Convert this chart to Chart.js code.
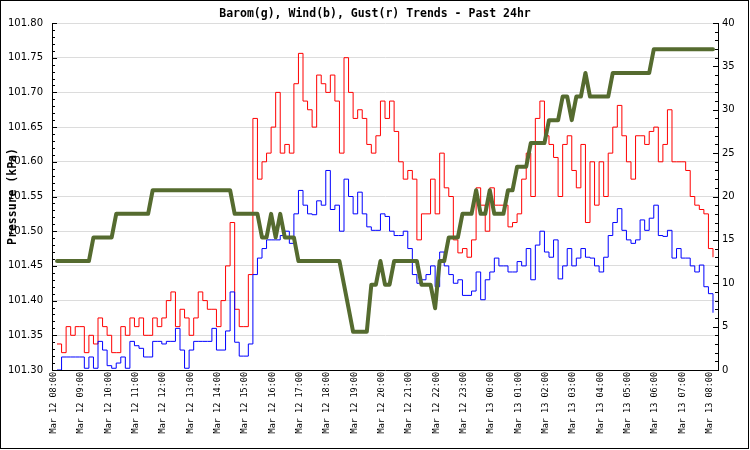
<!DOCTYPE html>
<html>
<head>
<meta charset="utf-8">
<script src="https://cdn.jsdelivr.net/npm/chart.js@4.4.0/dist/chart.umd.min.js"></script>
<style>
  body { margin: 0; background: #fff; }
  #weatherChart { display: block; }
</style>
</head>
<body>
<canvas id="weatherChart" width="750" height="450"></canvas>
<script>
// hour tick labels along the bottom axis
const hourLabels = [
  "Mar 12 08:00", "Mar 12 09:00", "Mar 12 10:00", "Mar 12 11:00", "Mar 12 12:00",
  "Mar 12 13:00", "Mar 12 14:00", "Mar 12 15:00", "Mar 12 16:00", "Mar 12 17:00",
  "Mar 12 18:00", "Mar 12 19:00", "Mar 12 20:00", "Mar 12 21:00", "Mar 12 22:00",
  "Mar 12 23:00", "Mar 13 00:00", "Mar 13 01:00", "Mar 13 02:00", "Mar 13 03:00",
  "Mar 13 04:00", "Mar 13 05:00", "Mar 13 06:00", "Mar 13 07:00", "Mar 13 08:00",
];

// readings every 10 minutes, first one at 08:07
const firstReading = 7; // minutes after 08:00
const readingStep = 10;

// barometer (kPa)
const barom = [
  101.457, 101.457, 101.457, 101.457, 101.457, 101.457, 101.457, 101.457,
  101.491, 101.491, 101.491, 101.491, 101.491,
  101.525, 101.525, 101.525, 101.525, 101.525, 101.525, 101.525, 101.525,
  101.559, 101.559, 101.559, 101.559, 101.559, 101.559, 101.559, 101.559, 101.559,
  101.559, 101.559, 101.559, 101.559, 101.559, 101.559, 101.559, 101.559, 101.559,
  101.525, 101.525, 101.525, 101.525, 101.525, 101.525,
  101.491, 101.491, 101.525, 101.491, 101.525, 101.491, 101.491, 101.491,
  101.457, 101.457, 101.457, 101.457, 101.457, 101.457, 101.457, 101.457, 101.457, 101.457,
  101.423, 101.389,
  101.355, 101.355, 101.355, 101.355,
  101.423, 101.423, 101.457, 101.423, 101.423,
  101.457, 101.457, 101.457, 101.457, 101.457, 101.457,
  101.423, 101.423, 101.423, 101.389, 101.457, 101.457,
  101.491, 101.491, 101.491,
  101.525, 101.525, 101.525,
  101.559, 101.525, 101.525, 101.559,
  101.525, 101.525, 101.525, 101.559, 101.559,
  101.593, 101.593, 101.593,
  101.627, 101.627, 101.627, 101.627,
  101.660, 101.660, 101.660,
  101.694, 101.694, 101.660, 101.694, 101.694,
  101.728,
  101.694, 101.694, 101.694, 101.694, 101.694,
  101.728, 101.728, 101.728, 101.728, 101.728, 101.728, 101.728, 101.728, 101.728,
  101.762, 101.762, 101.762, 101.762, 101.762, 101.762, 101.762,
  101.762, 101.762, 101.762, 101.762, 101.762, 101.762, 101.762,
];

// average wind
const wind = [
  0, 1.5, 1.5, 1.5, 1.5, 1.5, 0.2, 1.5, 0.2, 3.3,
  2.3, 0.5, 0.2, 0.8, 1.5, 0.2, 3.3, 2.8, 2.5, 1.5,
  1.5, 3.3, 3.3, 3, 3.3, 3.3, 4.8, 2.3, 0.2, 2.3,
  3.3, 3.3, 3.3, 3.3, 4.8, 2.3, 2.3, 4.5, 9, 3.2,
  1.6, 1.6, 3, 11, 12.9, 14, 15, 15, 15, 15.5,
  16, 14.6, 18, 20.7, 19, 18, 17.9, 19.5, 19, 23,
  18.5, 19, 16, 22, 20, 18, 20.5, 18, 16.5, 16.1,
  16.1, 18, 17.7, 16, 15.5, 15.5, 16, 14, 11, 10,
  10.4, 11, 12, 9.6, 13.6, 12, 11, 10, 10.4, 8.6,
  8.6, 9.1, 11.3, 8.1, 10.4, 11.3, 12.9, 12, 12, 11.3,
  11.3, 12.5, 12, 14, 10.4, 14.4, 16, 13.6, 13, 15,
  10.5, 12, 14, 12, 12.9, 14, 13, 12.9, 12, 11.3,
  13, 15.5, 17, 18.6, 16.1, 15, 14.6, 15, 17.3, 16.1,
  17.5, 19, 15.5, 15.4, 16.1, 12.9, 14, 12.9, 12.9, 12,
  11.3, 12.1, 9.6, 8.8, 6.6,
];

// gusts
const gust = [
  3, 2, 5, 4, 5, 5, 2, 4, 3, 6,
  5, 4, 2, 2, 5, 4, 6, 5, 6, 4,
  4, 6, 5, 6, 8, 9, 5, 7, 6, 4,
  6, 9, 8, 7, 7, 5, 8, 12, 17, 7,
  5, 5, 11, 29, 22, 24, 25, 28, 32, 25,
  26, 25, 33, 36.5, 31, 30, 28, 34, 33, 32,
  34, 31, 25, 36, 32, 29, 30, 29, 26, 25,
  27, 31, 29, 31, 27.5, 24, 22, 23, 22, 15,
  18, 18, 22, 18, 25, 21, 20, 15, 13.5, 14,
  13, 15, 21, 19, 16, 21, 19, 19, 19, 16.5,
  17, 18, 22, 25, 20, 29, 31, 27, 26, 24.5,
  20, 26, 27, 23, 21, 26, 17, 24, 19, 24,
  20, 25, 28, 30.5, 27, 24, 22, 27, 27, 26,
  27.5, 28, 24, 26, 30, 24, 24, 24, 23, 20,
  19, 18.5, 18, 14, 13,
];

const toPoints = (values) =>
  values.map((v, i) => ({ x: firstReading + i * readingStep, y: v }));

const monoFont = "'DejaVu Sans Mono', monospace";

// inward tick marks + outer frame, like the original image
const frameAndTicks = {
  id: "frameAndTicks",
  afterDraw(chart) {
    const { ctx, chartArea, scales } = chart;
    ctx.save();
    ctx.strokeStyle = "#000";
    ctx.lineWidth = 1;
    ctx.beginPath();
    // left axis: minor every 0.01 kPa
    for (let k = 0; k <= 50; k++) {
      const y = Math.round(scales.y.getPixelForValue(101.3 + k * 0.01)) + 0.5;
      const len = k % 5 === 0 ? 5 : 3;
      ctx.moveTo(chartArea.left, y);
      ctx.lineTo(chartArea.left + len, y);
    }
    // right axis: minor every 1
    for (let k = 0; k <= 40; k++) {
      const y = Math.round(scales.y1.getPixelForValue(k)) + 0.5;
      const len = k % 5 === 0 ? 5 : 3;
      ctx.moveTo(chartArea.right, y);
      ctx.lineTo(chartArea.right - len, y);
    }
    ctx.stroke();
    ctx.strokeRect(0.5, 0.5, chart.width - 2, chart.height - 2);
    ctx.restore();
  },
};

const ctx = document.getElementById("weatherChart").getContext("2d");
const chart = new Chart(ctx, {
  type: "line",
  data: {
    datasets: [
      {
        label: "Barom",
        data: toPoints(barom),
        yAxisID: "y",
        borderColor: "#556b2f",
        borderWidth: 4,
        borderJoinStyle: "round",
        borderCapStyle: "round",
        pointRadius: 0,
        tension: 0,
        fill: false,
      },
      {
        label: "Wind",
        data: toPoints(wind),
        yAxisID: "y1",
        borderColor: "#0000ff",
        borderWidth: 1,
        pointRadius: 0,
        stepped: true,
        fill: false,
      },
      {
        label: "Gust",
        data: toPoints(gust),
        yAxisID: "y1",
        borderColor: "#ff0000",
        borderWidth: 1,
        pointRadius: 0,
        stepped: true,
        fill: false,
      },
    ],
  },
  options: {
    responsive: false,
    animation: false,
    devicePixelRatio: 1,
    layout: { padding: 0 },
    plugins: {
      legend: { display: false },
      tooltip: { enabled: false },
      title: {
        display: true,
        text: "Barom(g), Wind(b), Gust(r) Trends - Past 24hr",
        color: "#000",
        font: { family: monoFont, size: 11.5, weight: "bold" },
        padding: { top: 7, bottom: 2.2 },
      },
    },
    scales: {
      x: {
        type: "linear",
        min: -4,
        max: 1458,
        afterBuildTicks: (scale) => {
          scale.ticks = hourLabels.map((_, k) => ({ value: k * 60 }));
        },
        afterFit: (scale) => {
          scale.height = 80;
        },
        ticks: {
          autoSkip: false,
          minRotation: 90,
          maxRotation: 90,
          padding: 2,
          color: "#000",
          font: { family: monoFont, size: 8.5 },
          callback: (value, index) => hourLabels[index],
        },
        grid: { display: true, drawOnChartArea: false, drawTicks: false },
        border: { display: true, color: "#000", width: 1 },
      },
      y: {
        position: "left",
        min: 101.3,
        max: 101.8,
        afterFit: (scale) => {
          scale.width = 52;
        },
        ticks: {
          stepSize: 0.05,
          padding: 9,
          color: "#000",
          font: { family: "'DejaVu Sans', sans-serif", size: 10 },
          callback: (value) => value.toFixed(2),
        },
        grid: { color: "#dcdcdc", drawTicks: false },
        border: { display: true, color: "#000", width: 1 },
        title: {
          display: true,
          text: "Pressure (kPa)",
          color: "#000",
          font: { family: monoFont, size: 11.5, weight: "bold" },
          padding: { top: 6, bottom: 0 },
        },
      },
      y1: {
        position: "right",
        min: 0,
        max: 40,
        afterFit: (scale) => {
          scale.width = 32;
        },
        ticks: {
          stepSize: 5,
          padding: 4,
          color: "#000",
          font: { family: "'DejaVu Sans', sans-serif", size: 10 },
        },
        grid: { drawOnChartArea: false, drawTicks: false },
        border: { display: true, color: "#000", width: 1 },
      },
    },
  },
  plugins: [frameAndTicks],
});
</script>
</body>
</html>
